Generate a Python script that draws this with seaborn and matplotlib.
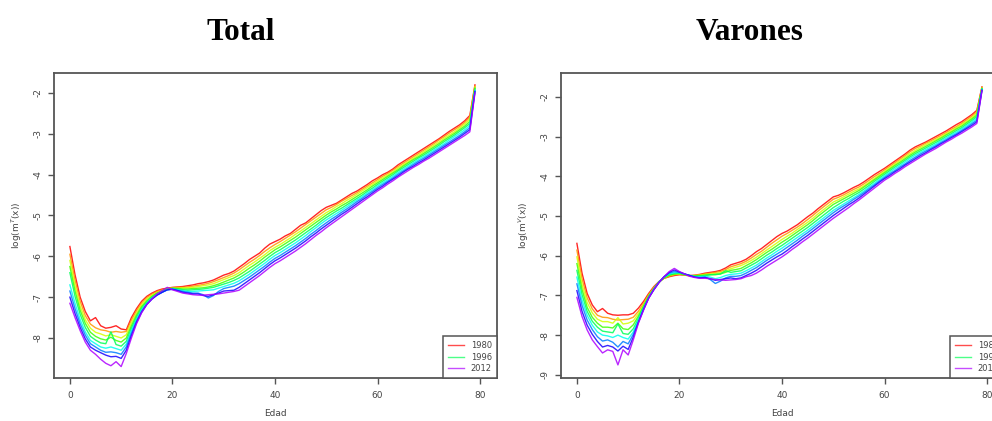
import colorsys
import matplotlib
matplotlib.use("Agg")
import matplotlib.pyplot as plt
from matplotlib.lines import Line2D
import numpy as np
import pandas as pd
import seaborn as sns

# ---------------- data ----------------
ages = list(range(80))
years = [1980, 1984, 1988, 1992, 1996, 2000, 2004, 2008, 2012]
legend_years = [1980, 1996, 2012]
x_ticks = [0, 20, 40, 60, 80]
titles = ["Total", "Varones"]
y_labels = ["log(m$^{T}$(x))", "log(m$^{V}$(x))"]
x_label = "Edad"

tot_1980 = [-5.76, -6.45, -7.00, -7.35, -7.58, -7.50, -7.70, -7.76, -7.74, -7.70, -7.78, -7.80, -7.50, -7.28, -7.10, -6.98, -6.90, -6.84, -6.80, -6.78,
            -6.76, -6.75, -6.74, -6.72, -6.70, -6.67, -6.65, -6.62, -6.58, -6.52, -6.46, -6.42, -6.36, -6.27, -6.18, -6.08, -6.00, -5.92, -5.80, -5.70,
            -5.64, -5.58, -5.50, -5.44, -5.34, -5.24, -5.18, -5.08, -4.98, -4.88, -4.80, -4.75, -4.70, -4.62, -4.54, -4.46, -4.40, -4.32, -4.24, -4.15,
            -4.08, -4.00, -3.94, -3.86, -3.76, -3.68, -3.60, -3.52, -3.44, -3.36, -3.28, -3.20, -3.12, -3.03, -2.94, -2.86, -2.78, -2.68, -2.55, -1.80]
tot_1984 = [-5.95, -6.58, -7.10, -7.45, -7.66, -7.75, -7.80, -7.82, -7.86, -7.84, -7.86, -7.84, -7.56, -7.33, -7.14, -7.01, -6.93, -6.86, -6.82, -6.79,
            -6.77, -6.76, -6.76, -6.75, -6.73, -6.71, -6.69, -6.66, -6.62, -6.57, -6.52, -6.47, -6.41, -6.33, -6.24, -6.15, -6.07, -5.98, -5.88, -5.79,
            -5.71, -5.64, -5.56, -5.48, -5.40, -5.31, -5.22, -5.13, -5.04, -4.95, -4.86, -4.80, -4.73, -4.65, -4.58, -4.51, -4.44, -4.36, -4.28, -4.20,
            -4.12, -4.04, -3.97, -3.89, -3.80, -3.72, -3.64, -3.56, -3.48, -3.40, -3.32, -3.24, -3.15, -3.07, -2.98, -2.90, -2.82, -2.72, -2.60, -1.83]
tot_1988 = [-6.10, -6.72, -7.22, -7.55, -7.76, -7.86, -7.90, -7.95, -7.92, -7.96, -8.00, -7.92, -7.63, -7.39, -7.19, -7.05, -6.96, -6.89, -6.84, -6.80,
            -6.78, -6.78, -6.77, -6.77, -6.76, -6.74, -6.72, -6.70, -6.67, -6.62, -6.57, -6.52, -6.47, -6.40, -6.31, -6.22, -6.14, -6.05, -5.96, -5.86,
            -5.78, -5.71, -5.63, -5.55, -5.46, -5.38, -5.29, -5.20, -5.11, -5.02, -4.93, -4.86, -4.78, -4.71, -4.63, -4.56, -4.48, -4.40, -4.32, -4.24,
            -4.16, -4.08, -4.01, -3.93, -3.84, -3.76, -3.68, -3.60, -3.52, -3.44, -3.36, -3.28, -3.20, -3.11, -3.03, -2.95, -2.86, -2.76, -2.65, -1.85]
tot_1992 = [-6.25, -6.85, -7.32, -7.64, -7.86, -7.96, -8.02, -8.05, -7.98, -8.06, -8.10, -8.00, -7.70, -7.44, -7.23, -7.09, -6.98, -6.90, -6.85, -6.80,
            -6.78, -6.79, -6.80, -6.80, -6.79, -6.78, -6.77, -6.75, -6.72, -6.68, -6.63, -6.58, -6.53, -6.46, -6.38, -6.29, -6.21, -6.12, -6.02, -5.93,
            -5.84, -5.77, -5.69, -5.61, -5.53, -5.44, -5.35, -5.26, -5.17, -5.08, -4.99, -4.91, -4.84, -4.76, -4.69, -4.61, -4.53, -4.45, -4.37, -4.28,
            -4.20, -4.12, -4.04, -3.96, -3.88, -3.79, -3.71, -3.63, -3.56, -3.48, -3.40, -3.32, -3.24, -3.15, -3.07, -2.99, -2.90, -2.81, -2.70, -1.88]
tot_1996 = [-6.40, -6.98, -7.42, -7.74, -7.96, -8.05, -8.12, -8.14, -7.85, -8.16, -8.20, -8.08, -7.76, -7.49, -7.27, -7.12, -7.00, -6.92, -6.86, -6.81,
            -6.79, -6.80, -6.82, -6.83, -6.82, -6.81, -6.80, -6.78, -6.76, -6.72, -6.68, -6.64, -6.59, -6.53, -6.45, -6.37, -6.28, -6.19, -6.10, -6.00,
            -5.91, -5.84, -5.76, -5.68, -5.60, -5.51, -5.42, -5.33, -5.24, -5.14, -5.05, -4.97, -4.89, -4.82, -4.74, -4.66, -4.58, -4.50, -4.41, -4.33,
            -4.24, -4.16, -4.08, -4.00, -3.91, -3.83, -3.75, -3.67, -3.59, -3.52, -3.44, -3.36, -3.28, -3.19, -3.11, -3.03, -2.94, -2.85, -2.75, -1.90]
tot_2000 = [-6.70, -7.15, -7.55, -7.85, -8.06, -8.14, -8.22, -8.25, -8.22, -8.26, -8.30, -8.15, -7.82, -7.54, -7.31, -7.15, -7.02, -6.94, -6.88, -6.82,
            -6.80, -6.82, -6.84, -6.86, -6.86, -6.85, -6.84, -6.83, -6.82, -6.78, -6.74, -6.70, -6.66, -6.60, -6.52, -6.44, -6.35, -6.26, -6.17, -6.07,
            -5.98, -5.91, -5.83, -5.75, -5.67, -5.58, -5.49, -5.39, -5.30, -5.20, -5.11, -5.03, -4.95, -4.87, -4.79, -4.70, -4.62, -4.54, -4.45, -4.37,
            -4.28, -4.20, -4.12, -4.04, -3.95, -3.87, -3.79, -3.71, -3.63, -3.56, -3.48, -3.40, -3.32, -3.24, -3.15, -3.07, -2.99, -2.90, -2.80, -1.93]
tot_2004 = [-6.85, -7.28, -7.65, -7.93, -8.14, -8.22, -8.30, -8.35, -8.34, -8.36, -8.40, -8.22, -7.88, -7.58, -7.34, -7.17, -7.04, -6.95, -6.88, -6.82,
            -6.80, -6.83, -6.86, -6.88, -6.90, -6.90, -6.94, -7.02, -6.96, -6.86, -6.79, -6.76, -6.73, -6.67, -6.59, -6.51, -6.42, -6.33, -6.24, -6.14,
            -6.05, -5.98, -5.90, -5.82, -5.74, -5.65, -5.56, -5.46, -5.37, -5.27, -5.18, -5.09, -5.01, -4.92, -4.84, -4.75, -4.66, -4.58, -4.49, -4.41,
            -4.32, -4.24, -4.16, -4.08, -3.99, -3.91, -3.83, -3.75, -3.67, -3.60, -3.52, -3.44, -3.36, -3.28, -3.20, -3.12, -3.04, -2.95, -2.85, -1.95]
tot_2008 = [-7.00, -7.40, -7.74, -8.02, -8.22, -8.30, -8.36, -8.42, -8.46, -8.45, -8.50, -8.30, -7.94, -7.62, -7.37, -7.18, -7.05, -6.95, -6.88, -6.82,
            -6.81, -6.84, -6.88, -6.90, -6.92, -6.92, -6.96, -6.98, -6.94, -6.90, -6.85, -6.84, -6.83, -6.76, -6.67, -6.58, -6.49, -6.40, -6.30, -6.20,
            -6.11, -6.04, -5.96, -5.88, -5.80, -5.71, -5.62, -5.52, -5.43, -5.33, -5.24, -5.15, -5.06, -4.97, -4.89, -4.80, -4.71, -4.62, -4.54, -4.45,
            -4.36, -4.28, -4.19, -4.11, -4.03, -3.94, -3.86, -3.79, -3.71, -3.64, -3.56, -3.48, -3.40, -3.32, -3.24, -3.16, -3.08, -2.99, -2.90, -1.97]
tot_2012 = [-7.15, -7.50, -7.82, -8.10, -8.30, -8.40, -8.52, -8.62, -8.68, -8.58, -8.70, -8.38, -8.00, -7.65, -7.38, -7.18, -7.04, -6.92, -6.84, -6.76,
            -6.82, -6.86, -6.90, -6.92, -6.94, -6.95, -6.95, -6.94, -6.93, -6.92, -6.90, -6.88, -6.86, -6.83, -6.74, -6.65, -6.56, -6.47, -6.37, -6.27,
            -6.18, -6.11, -6.03, -5.95, -5.87, -5.78, -5.69, -5.59, -5.49, -5.40, -5.30, -5.21, -5.12, -5.03, -4.94, -4.85, -4.76, -4.67, -4.58, -4.49,
            -4.40, -4.32, -4.23, -4.15, -4.06, -3.98, -3.90, -3.82, -3.75, -3.67, -3.60, -3.52, -3.44, -3.36, -3.28, -3.20, -3.12, -3.04, -2.95, -2.00]

var_1980 = [-5.69, -6.44, -6.95, -7.24, -7.41, -7.33, -7.45, -7.49, -7.50, -7.49, -7.49, -7.45, -7.32, -7.15, -6.95, -6.78, -6.65, -6.57, -6.53, -6.50,
            -6.48, -6.49, -6.50, -6.49, -6.47, -6.44, -6.42, -6.40, -6.37, -6.31, -6.23, -6.19, -6.15, -6.09, -6.00, -5.90, -5.82, -5.72, -5.62, -5.52,
            -5.44, -5.38, -5.30, -5.22, -5.12, -5.02, -4.93, -4.82, -4.72, -4.62, -4.52, -4.48, -4.42, -4.35, -4.28, -4.22, -4.14, -4.05, -3.96, -3.88,
            -3.80, -3.71, -3.62, -3.53, -3.44, -3.34, -3.26, -3.20, -3.14, -3.07, -3.00, -2.93, -2.86, -2.78, -2.70, -2.63, -2.54, -2.45, -2.34, -1.75]
var_1984 = [-5.86, -6.58, -7.06, -7.34, -7.50, -7.55, -7.56, -7.60, -7.62, -7.61, -7.60, -7.55, -7.40, -7.20, -6.98, -6.80, -6.66, -6.57, -6.52, -6.48,
            -6.47, -6.49, -6.51, -6.50, -6.48, -6.46, -6.44, -6.42, -6.40, -6.35, -6.28, -6.24, -6.20, -6.14, -6.06, -5.97, -5.89, -5.79, -5.69, -5.60,
            -5.51, -5.44, -5.36, -5.28, -5.19, -5.09, -4.99, -4.88, -4.78, -4.68, -4.58, -4.53, -4.47, -4.40, -4.33, -4.27, -4.19, -4.10, -4.01, -3.93,
            -3.84, -3.75, -3.66, -3.57, -3.48, -3.38, -3.30, -3.24, -3.17, -3.11, -3.04, -2.97, -2.90, -2.82, -2.75, -2.67, -2.58, -2.49, -2.38, -1.76]
var_1988 = [-6.03, -6.72, -7.18, -7.44, -7.60, -7.66, -7.66, -7.70, -7.56, -7.72, -7.70, -7.64, -7.46, -7.24, -7.01, -6.82, -6.67, -6.56, -6.50, -6.47,
            -6.46, -6.48, -6.50, -6.50, -6.49, -6.47, -6.46, -6.45, -6.43, -6.39, -6.33, -6.29, -6.25, -6.19, -6.12, -6.04, -5.95, -5.86, -5.77, -5.68,
            -5.59, -5.51, -5.43, -5.34, -5.25, -5.16, -5.06, -4.95, -4.85, -4.75, -4.65, -4.59, -4.52, -4.45, -4.38, -4.32, -4.24, -4.15, -4.06, -3.97,
            -3.88, -3.79, -3.70, -3.61, -3.52, -3.43, -3.35, -3.28, -3.21, -3.14, -3.08, -3.01, -2.93, -2.86, -2.78, -2.70, -2.62, -2.53, -2.42, -1.78]
var_1992 = [-6.20, -6.85, -7.30, -7.55, -7.70, -7.80, -7.80, -7.82, -7.70, -7.84, -7.86, -7.74, -7.52, -7.27, -7.02, -6.83, -6.67, -6.56, -6.49, -6.46,
            -6.45, -6.48, -6.50, -6.51, -6.50, -6.49, -6.48, -6.48, -6.46, -6.42, -6.37, -6.35, -6.32, -6.25, -6.18, -6.10, -6.01, -5.92, -5.84, -5.75,
            -5.66, -5.58, -5.49, -5.40, -5.31, -5.22, -5.12, -5.01, -4.91, -4.81, -4.71, -4.64, -4.57, -4.50, -4.43, -4.36, -4.27, -4.18, -4.09, -4.00,
            -3.91, -3.82, -3.73, -3.65, -3.56, -3.47, -3.39, -3.32, -3.25, -3.18, -3.11, -3.04, -2.96, -2.89, -2.81, -2.74, -2.65, -2.56, -2.46, -1.79]
var_1996 = [-6.37, -6.98, -7.40, -7.65, -7.80, -7.90, -7.92, -7.94, -7.72, -7.96, -7.98, -7.84, -7.58, -7.30, -7.04, -6.84, -6.67, -6.55, -6.48, -6.45,
            -6.44, -6.47, -6.50, -6.52, -6.51, -6.50, -6.48, -6.47, -6.46, -6.38, -6.42, -6.40, -6.38, -6.31, -6.24, -6.17, -6.08, -5.99, -5.91, -5.82,
            -5.74, -5.65, -5.56, -5.47, -5.38, -5.29, -5.19, -5.09, -4.99, -4.89, -4.79, -4.71, -4.63, -4.56, -4.48, -4.41, -4.32, -4.23, -4.13, -4.04,
            -3.95, -3.86, -3.77, -3.69, -3.60, -3.51, -3.43, -3.36, -3.29, -3.22, -3.15, -3.08, -3.00, -2.93, -2.85, -2.78, -2.69, -2.60, -2.50, -1.80]
var_2000 = [-6.54, -7.12, -7.50, -7.75, -7.92, -8.00, -8.02, -8.06, -8.00, -8.06, -8.10, -7.92, -7.62, -7.32, -7.05, -6.84, -6.66, -6.54, -6.46, -6.43,
            -6.43, -6.46, -6.50, -6.53, -6.53, -6.52, -6.54, -6.58, -6.55, -6.50, -6.47, -6.46, -6.44, -6.38, -6.31, -6.24, -6.15, -6.06, -5.98, -5.89,
            -5.81, -5.72, -5.63, -5.54, -5.45, -5.36, -5.26, -5.16, -5.06, -4.96, -4.86, -4.78, -4.70, -4.62, -4.54, -4.46, -4.37, -4.27, -4.18, -4.08,
            -3.99, -3.90, -3.81, -3.73, -3.64, -3.55, -3.47, -3.40, -3.33, -3.26, -3.19, -3.11, -3.04, -2.96, -2.89, -2.81, -2.73, -2.64, -2.54, -1.81]
var_2004 = [-6.71, -7.25, -7.62, -7.86, -8.04, -8.15, -8.12, -8.18, -8.30, -8.16, -8.22, -7.98, -7.66, -7.34, -7.06, -6.85, -6.67, -6.53, -6.44, -6.40,
            -6.42, -6.46, -6.50, -6.54, -6.55, -6.54, -6.60, -6.70, -6.64, -6.56, -6.52, -6.52, -6.50, -6.44, -6.37, -6.30, -6.21, -6.12, -6.04, -5.96,
            -5.88, -5.79, -5.70, -5.61, -5.51, -5.42, -5.32, -5.22, -5.12, -5.02, -4.92, -4.83, -4.75, -4.67, -4.58, -4.50, -4.41, -4.31, -4.22, -4.12,
            -4.03, -3.94, -3.86, -3.77, -3.69, -3.60, -3.52, -3.44, -3.37, -3.30, -3.23, -3.15, -3.08, -3.00, -2.93, -2.85, -2.77, -2.68, -2.59, -1.82]
var_2008 = [-6.88, -7.40, -7.75, -7.98, -8.16, -8.30, -8.26, -8.30, -8.40, -8.28, -8.36, -8.05, -7.68, -7.36, -7.07, -6.86, -6.68, -6.53, -6.42, -6.36,
            -6.41, -6.46, -6.50, -6.54, -6.56, -6.55, -6.58, -6.62, -6.60, -6.58, -6.56, -6.58, -6.56, -6.50, -6.44, -6.37, -6.28, -6.19, -6.11, -6.03,
            -5.96, -5.87, -5.77, -5.68, -5.58, -5.49, -5.39, -5.29, -5.19, -5.09, -4.99, -4.90, -4.81, -4.72, -4.64, -4.55, -4.45, -4.35, -4.25, -4.15,
            -4.06, -3.98, -3.89, -3.81, -3.72, -3.64, -3.56, -3.48, -3.41, -3.33, -3.26, -3.18, -3.11, -3.03, -2.96, -2.88, -2.80, -2.72, -2.63, -1.84]
var_2012 = [-7.05, -7.53, -7.87, -8.12, -8.29, -8.45, -8.37, -8.41, -8.75, -8.37, -8.50, -8.12, -7.70, -7.37, -7.07, -6.86, -6.68, -6.53, -6.40, -6.32,
            -6.40, -6.46, -6.52, -6.55, -6.57, -6.57, -6.58, -6.60, -6.61, -6.62, -6.61, -6.60, -6.58, -6.53, -6.50, -6.44, -6.36, -6.27, -6.19, -6.11,
            -6.03, -5.94, -5.84, -5.75, -5.65, -5.56, -5.46, -5.36, -5.26, -5.16, -5.06, -4.97, -4.88, -4.79, -4.69, -4.60, -4.50, -4.40, -4.30, -4.20,
            -4.10, -4.02, -3.93, -3.85, -3.76, -3.68, -3.60, -3.52, -3.44, -3.37, -3.30, -3.22, -3.14, -3.07, -2.99, -2.92, -2.84, -2.76, -2.67, -1.85]

total_series = [tot_1980, tot_1984, tot_1988, tot_1992, tot_1996, tot_2000, tot_2004, tot_2008, tot_2012]
varones_series = [var_1980, var_1984, var_1988, var_1992, var_1996, var_2000, var_2004, var_2008, var_2012]


def long_frame(series):
    rows = []
    for yr, vals in zip(years, series):
        for a, v in zip(ages, vals):
            rows.append((yr, a, v))
    return pd.DataFrame(rows, columns=["year", "Edad", "val"])


def rainbow(year):
    # R-style rainbow(n*1.25): hue runs red -> violet over 1980..2012
    i = year - 1980
    return colorsys.hsv_to_rgb(i / 41.0, 1.0, 1.0)


palette = {y: rainbow(y) for y in years}

# ---------------- figure ----------------
W, H = 992, 421
fig = plt.figure(figsize=(W / 100, H / 100), dpi=100)
fig.patch.set_facecolor("white")

# axes boxes in pixel coords: (left, top, right, bottom)
boxes = [(54, 73, 497, 378), (561, 73, 1004, 378)]
ylims = [(-8.98, -1.51), (-9.08, -1.40)]
yticks = [[-2, -3, -4, -5, -6, -7, -8], [-2, -3, -4, -5, -6, -7, -8, -9]]
title_x = [241, 750]

frame_col = "#555555"
text_col = "#444444"

for k, series in enumerate([total_series, varones_series]):
    l, t, r, b = boxes[k]
    ax = fig.add_axes([l / W, 1 - b / H, (r - l) / W, (b - t) / H])
    df = long_frame(series)
    sns.lineplot(data=df, x="Edad", y="val", hue="year", palette=palette,
                 ax=ax, legend=False, linewidth=1.0, alpha=0.85,
                 estimator=None, sort=False)
    ax.set_xlim(-3.1, 83.3)
    ax.set_ylim(*ylims[k])
    ax.set_xticks(x_ticks)
    ax.set_yticks(yticks[k])
    ax.set_xticklabels([str(v) for v in x_ticks])
    ax.set_yticklabels([str(v) for v in yticks[k]], rotation=90, va="center")
    ax.tick_params(axis="x", direction="out", length=4, width=1,
                   color=frame_col, labelsize=6.5, labelcolor=text_col, pad=5)
    ax.tick_params(axis="y", direction="out", length=4, width=1,
                   color=frame_col, labelsize=6.5, labelcolor=text_col, pad=4)
    for sp in ax.spines.values():
        sp.set_color(frame_col)
        sp.set_linewidth(1.3)
    ax.set_xlabel(x_label, fontsize=6.5, color=text_col, labelpad=7)
    ax.set_ylabel(y_labels[k], fontsize=6.5, color=text_col, labelpad=7)
    ax.set_facecolor("white")
    ax.grid(False)

    handles = [Line2D([0], [0], color=palette[y], lw=1.0, alpha=0.7) for y in legend_years]
    leg = ax.legend(handles, [str(y) for y in legend_years], loc="lower right",
                    borderaxespad=0, fancybox=False, fontsize=6,
                    handlelength=2.0, handletextpad=0.8, labelspacing=0.3,
                    borderpad=0.6, framealpha=1)
    leg.get_frame().set_edgecolor(frame_col)
    leg.get_frame().set_linewidth(1.1)
    for txt in leg.get_texts():
        txt.set_color(text_col)

    fig.text(title_x[k] / W, 1 - 40 / H, titles[k], ha="center", va="baseline",
             fontsize=22.5, fontweight="bold", family=["Liberation Serif", "DejaVu Serif"])

fig.savefig("out.png", dpi=100, facecolor="white")
